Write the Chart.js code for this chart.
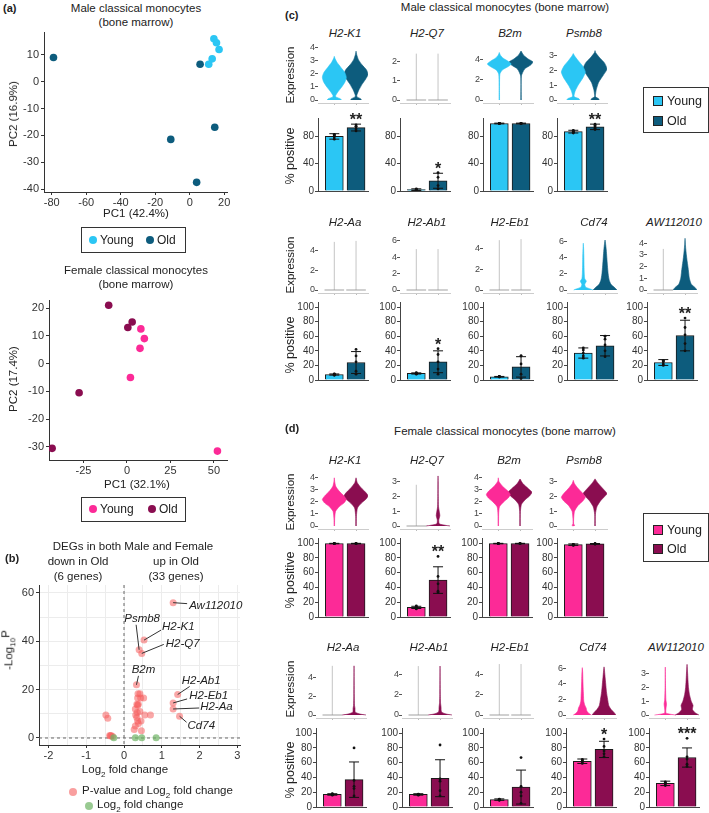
<!DOCTYPE html>
<html>
<head>
<meta charset="utf-8">
<script src="https://cdn.jsdelivr.net/npm/chart.js@4.4.1/dist/chart.umd.min.js"></script>
<style>
  body { margin: 0; background: #fff; width: 709px; height: 813px; position: relative; overflow: hidden;
         font-family: 'Liberation Sans', Arial, sans-serif; color: #222; }
  canvas { position: absolute; }
  .t { position: absolute; white-space: nowrap; transform: translate(-50%, -50%); }
  .l { position: absolute; white-space: nowrap; transform: translate(0, -50%); }
  .rot { position: absolute; white-space: nowrap; transform: translate(-50%, -50%) rotate(-90deg); }
  .box { position: absolute; border: 1px solid #333; box-sizing: border-box; }
  .dot { position: absolute; border-radius: 50%; transform: translate(-50%, -50%); }
  .sq { position: absolute; border: 1px solid #222; box-sizing: border-box; transform: translate(0, -50%); }
</style>
</head>
<body>
<script>
// ---------- data ----------
// (a) PCA
const maleYoungPC1 = [14, 15.5, 17, 13, 11];
const maleYoungPC2 = [16, 14.5, 12, 8.5, 6.5];
const maleOldPC1 = [-79, 6, -11, 14.5, 4];
const maleOldPC2 = [9, 6.5, -21.5, -17, -37.5];
const femYoungPC1 = [8, 10, 7.5, 2, 52];
const femYoungPC2 = [12.5, 9, 5.5, -5, -31.5];
const femOldPC1 = [-43, -27.5, -10.5, 0.5, 3];
const femOldPC2 = [-30.5, -10.5, 21, 13, 15];

// (b) volcano
const volcanoGenes = ['Aw112010', 'H2-K1', 'Psmb8', 'H2-Q7', 'B2m', 'H2-Ab1', 'H2-Eb1', 'H2-Aa', 'Cd74',
  '', '', '', '', '', '', '', '', '', '', '', '', '', '', '', '', '', '', '', '', '',
  '', '', '', '', '', ''];
const volcanoFC = [1.30, 0.53, 0.40, 0.47, 0.33, 1.42, 1.30, 1.30, 1.47,
  0.37, 0.42, 0.36, 0.44, 0.52, 0.34, 0.38, 0.36, 0.30, 0.42, 0.31, 0.34, 0.55, 0.70, 0.36, 0.45, 0.38, 0.30, 0.27, 0.46, 0.35,
  -0.48, -0.43, -0.38, -0.34, -0.30, -0.36];
const volcanoLogP = [56, 40.5, 36.5, 35, 22, 18, 14.5, 12, 9,
  18.3, 18.3, 16.5, 16.5, 16.5, 14, 14, 13.5, 12, 11, 9.5, 8.5, 9.5, 9.5, 7, 7, 6, 5, 3.5, 3, 10.5,
  9.5, 8.2, 1, 1, 0.6, 0.8];
const fcOnlyFC = [-0.27, 0.30, 0.47, 0.85];
const fcOnlyLogP = [0.1, 0.1, 0.1, 0.1];

// (c)/(d) genes
const genes = ['H2-K1', 'H2-Q7', 'B2m', 'Psmb8', 'H2-Aa', 'H2-Ab1', 'H2-Eb1', 'Cd74', 'AW112010'];

// male % positive
const maleYoungMean = [80, 2, 99, 87, 7.5, 9, 4.5, 37, 24];
const maleYoungSd = [4, 1.2, 0.5, 2, 0.8, 0.8, 0.4, 7, 4];
const maleOldMean = [93, 15, 99, 94, 24, 25, 18, 47, 61];
const maleOldSd = [5, 11, 0.5, 4, 15, 15, 14, 14, 21];
const maleStars = ['**', '*', '', '**', '', '*', '', '', '**'];
const maleYoungDots = [[76, 79, 81, 83, 82], [1, 2, 3, 2.5], [99, 99, 99, 99, 99], [85, 86, 88, 89, 87],
  [6.5, 7, 8, 8.5, 7.5], [8, 9, 10, 9.5, 8.5], [4, 4.5, 5, 4.5, 4.5], [30, 33, 37, 41, 44], [20, 22, 25, 27, 26]];
const maleOldDots = [[88, 91, 95, 97, 94], [3, 8, 20, 27], [99, 99, 99, 99, 99], [90, 92, 96, 98, 94],
  [8, 12, 25, 33, 42], [8, 15, 25, 35, 43], [2, 8, 22, 33, 33], [32, 40, 48, 56, 60], [40, 50, 62, 72, 85]];

// female % positive
const femYoungMean = [99.5, 13, 99.5, 98, 17, 17, 10, 62, 32];
const femYoungSd = [0.3, 1.5, 0.3, 1, 1, 1, 1, 3, 3];
const femOldMean = [99.5, 50, 99.5, 99, 37, 39, 27, 78, 67];
const femOldSd = [0.3, 18, 0.3, 0.5, 24, 25, 23, 11, 13];
const femStars = ['', '**', '', '', '', '', '', '*', '***'];
const femYoungDots = [[99.5, 99.5, 99.5, 99.5, 99.5], [11, 12, 13, 14, 15], [99.5, 99.5, 99.5, 99.5, 99.5],
  [97, 97.5, 98, 98.5, 98], [16, 16.5, 17, 17.5, 18], [16, 16.5, 17, 17.5, 17], [9, 9.5, 10, 10.5, 10],
  [59, 61, 62, 64, 64], [29, 31, 32, 34, 33]];
const femOldDots = [[99.5, 99.5, 99.5, 99.5, 99.5], [33, 35, 45, 55, 82], [99.5, 99.5, 99.5, 99.5, 99.5],
  [99, 99, 99, 99.5, 99], [15, 25, 28, 36, 80], [15, 22, 35, 38, 84], [5, 15, 20, 28, 67],
  [68, 72, 76, 82, 92], [55, 58, 65, 68, 93]];

// expression axis tops and tick steps
const maleExprMax = [4.3, 2.9, 5.6, 3.8, 5.5, 6.6, 5.2, 6.7, 4.6];
const maleExprStep = [1, 1, 1, 1, 1, 2, 1, 2, 1];
const femExprMax = [4.4, 3.6, 4.4, 3.6, 5.5, 5.1, 5.1, 6.7, 3.8];
const femExprStep = [1, 1, 1, 1, 2, 1, 1, 2, 1];

// violin outlines: [expression, relative half width]; a single number = cells almost all at 0 (thin line up to that value)
const maleYoungViolin = [
  [[0, .6], [.1, .5], [.22, .15], [.32, .1], [.6, .28], [1, .62], [1.4, .9], [1.75, 1], [2.1, .88], [2.5, .55], [2.9, .22], [3.2, .05], [3.35, 0]],
  2.4,
  [[0, .02], [1.5, .02], [2.6, .05], [3.0, .25], [3.35, .75], [3.6, 1], [3.9, .7], [4.2, .3], [4.5, .08], [4.75, 0]],
  [[0, .55], [.1, .45], [.2, .1], [.3, .06], [.6, .15], [1, .4], [1.5, .8], [1.9, 1], [2.3, .78], [2.7, .38], [3, .1], [3.15, 0]],
  4.9,
  5.0,
  4.8,
  [[0, .8], [.12, .6], [.35, .2], [.7, .12], [1.1, .25], [1.4, .12], [2, .08], [3, .06], [4, .05], [5, .03], [5.8, 0]],
  3.5
];
const maleOldViolin = [
  [[0, .45], [.1, .38], [.22, .1], [.35, .06], [.7, .2], [1.2, .5], [1.6, .8], [1.95, 1], [2.3, .88], [2.7, .5], [3.1, .2], [3.5, .05], [3.75, 0]],
  2.4,
  [[0, .02], [2.4, .03], [3.1, .3], [3.5, .8], [3.8, 1], [4.1, .6], [4.5, .2], [4.9, 0]],
  [[0, .35], [.1, .28], [.2, .05], [.3, .03], [.7, .1], [1.2, .3], [1.7, .7], [2.1, 1], [2.5, .8], [2.9, .35], [3.2, .06], [3.35, 0]],
  5.0,
  5.0,
  4.9,
  [[0, 1], [.3, .8], [.7, .5], [1.2, .35], [2, .26], [3, .2], [4, .15], [5, .1], [5.8, .04], [6.2, 0]],
  [[0, 1], [.2, .85], [.5, .52], [1, .36], [1.5, .3], [2, .24], [2.5, .17], [3, .11], [3.5, .06], [4, .02], [4.4, 0]]
];
const femYoungViolin = [
  [[0, .02], [.6, .03], [1.2, .1], [1.6, .4], [1.9, .8], [2.2, 1], [2.5, .8], [2.9, .4], [3.3, .12], [3.7, .03], [4, 0]],
  2.8,
  [[0, .02], [1, .03], [1.6, .1], [2, .45], [2.3, .8], [2.6, 1], [2.9, .8], [3.3, .35], [3.7, .05], [4, 0]],
  [[0, .03], [.05, .12], [.12, .03], [.5, .03], [1, .1], [1.4, .4], [1.7, .8], [1.95, 1], [2.2, .8], [2.6, .35], [2.9, .08], [3.1, 0]],
  5.2,
  4.8,
  5.0,
  [[0, .75], [.2, .55], [.5, .38], [.9, .32], [1.3, .2], [1.8, .12], [2.5, .1], [3.5, .07], [4.5, .05], [5.5, .03], [6.1, 0]],
  [[0, .9], [.06, .4], [.15, .05], [.5, .06], [.8, .1], [1.1, .05], [2, .02], [3.5, 0]]
];
const femOldViolin = [
  [[0, .02], [.8, .03], [1.5, .12], [1.9, .45], [2.2, .8], [2.5, 1], [2.8, .8], [3.2, .4], [3.6, .1], [4, 0]],
  [[0, 1], [.05, .6], [.15, .1], [.4, .06], [.7, .15], [.9, .12], [1.3, .04], [2, .02], [3, .01], [3.4, 0]],
  [[0, .02], [1.2, .03], [1.8, .12], [2.2, .45], [2.5, .8], [2.8, 1], [3.1, .7], [3.5, .25], [3.9, 0]],
  [[0, .02], [.8, .03], [1.3, .15], [1.7, .45], [2, .8], [2.2, 1], [2.5, .7], [2.9, .25], [3.2, 0]],
  [[0, 1], [.1, .5], [.3, .1], [.7, .08], [1, .04], [2, .02], [5.2, 0]],
  [[0, 1], [.1, .5], [.3, .12], [.8, .08], [1.2, .04], [2, .02], [4.8, 0]],
  5.0,
  [[0, 1], [.3, .85], [.7, .6], [1.2, .4], [2, .3], [3, .2], [4, .14], [5, .08], [6, .02], [6.2, 0]],
  [[0, 1], [.15, .7], [.4, .45], [.7, .5], [1, .35], [1.5, .2], [2, .12], [2.5, .08], [3, .05], [3.7, 0]]
];

// ---------- colours & layout ----------
const MALE = ['#2bc6f4', '#0d5c7d'];
const FEMALE = ['#fc2a97', '#8a0d50'];
const HW = 0.55;

Chart.defaults.font.family = "'Liberation Sans', Arial, sans-serif";
Chart.defaults.color = '#333';
Chart.defaults.animation = false;
Chart.defaults.responsive = false;
Chart.defaults.plugins.legend.display = false;
Chart.defaults.plugins.tooltip.enabled = false;

function canvasAt(left, top, w, h) {
  const c = document.createElement('canvas');
  c.width = w; c.height = h;
  c.style.left = left + 'px'; c.style.top = top + 'px';
  document.body.appendChild(c);
  return c;
}
function txt(x, y, html, css, cls) {
  const d = document.createElement('div');
  d.className = cls || 't';
  d.innerHTML = html;
  d.style.left = x + 'px'; d.style.top = y + 'px';
  Object.assign(d.style, css || {});
  document.body.appendChild(d);
}
function box(l, t, w, h) {
  const d = document.createElement('div');
  d.className = 'box';
  Object.assign(d.style, {left: l + 'px', top: t + 'px', width: w + 'px', height: h + 'px'});
  document.body.appendChild(d);
}
function dot(x, y, d, color) {
  const e = document.createElement('div');
  e.className = 'dot';
  Object.assign(e.style, {left: x + 'px', top: y + 'px', width: d + 'px', height: d + 'px', background: color});
  document.body.appendChild(e);
}
function sq(x, y, s, color) {
  const e = document.createElement('div');
  e.className = 'sq';
  Object.assign(e.style, {left: x + 'px', top: y + 'px', width: s + 'px', height: s + 'px', background: color});
  document.body.appendChild(e);
}
const pts = (xs, ys) => xs.map((x, i) => ({x, y: ys[i]}));

// ---------- (a) PCA ----------
function pcaChart(area, xr, yr, xStep, yStep, young, old, colors) {
  const c = canvasAt(0, area.t - 12, 240, 12 + (area.b - area.t) + 20);
  new Chart(c, {
    type: 'scatter',
    data: { datasets: [
      { data: young, backgroundColor: colors[0], pointRadius: 3.8, borderWidth: 0 },
      { data: old, backgroundColor: colors[1], pointRadius: 3.8, borderWidth: 0 }
    ] },
    options: {
      devicePixelRatio: 1,
      layout: { padding: { top: 12, right: 240 - area.r, bottom: 4, left: 0 } },
      scales: {
        x: { type: 'linear', min: xr[0], max: xr[1],
             ticks: { stepSize: xStep, includeBounds: false, font: { size: 11 }, padding: 1, maxRotation: 0, color: '#333' },
             grid: { drawOnChartArea: false, tickLength: 3, color: '#333' }, border: { color: '#333' },
             afterFit: s => { s.height = 16; } },
        y: { min: yr[0], max: yr[1],
             ticks: { stepSize: yStep, includeBounds: false, font: { size: 11 }, padding: 2, color: '#333' },
             grid: { drawOnChartArea: false, tickLength: 3, color: '#333' }, border: { color: '#333' },
             afterFit: s => { s.width = area.l; } }
      }
    }
  });
}

txt(3, 8, '(a)', { fontWeight: 'bold', fontSize: '11px' }, 'l');
txt(136, 8, 'Male classical monocytes', { fontSize: '11.5px' });
txt(136, 22, '(bone marrow)', { fontSize: '11.5px' });
pcaChart({ l: 44, t: 32, r: 227, b: 192 }, [-84.5, 21.6], [-41.1, 18.5], 20, 10,
  pts(maleYoungPC1, maleYoungPC2), pts(maleOldPC1, maleOldPC2), MALE);
txt(136, 213, 'PC1 (42.4%)', { fontSize: '11.5px' });
txt(13, 114, 'PC2 (16.9%)', { fontSize: '11.5px' }, 'rot');
box(81, 227, 105, 26);
dot(93, 240, 8, MALE[0]); txt(100, 240, 'Young', { fontSize: '12px' }, 'l');
dot(150, 240, 8, MALE[1]); txt(157, 240, 'Old', { fontSize: '12px' }, 'l');

txt(136, 270, 'Female classical monocytes', { fontSize: '11.5px' });
txt(136, 284, '(bone marrow)', { fontSize: '11.5px' });
pcaChart({ l: 49, t: 300, r: 227, b: 460 }, [-44.8, 57.5], [-34.7, 22.9], 25, 10,
  pts(femYoungPC1, femYoungPC2), pts(femOldPC1, femOldPC2), FEMALE);
txt(137, 484, 'PC1 (32.1%)', { fontSize: '11.5px' });
txt(13, 379, 'PC2 (17.4%)', { fontSize: '11.5px' }, 'rot');
box(81, 497, 105, 25);
dot(93, 509, 8, FEMALE[0]); txt(100, 509, 'Young', { fontSize: '12px' }, 'l');
dot(152, 509, 8, FEMALE[1]); txt(159, 509, 'Old', { fontSize: '12px' }, 'l');

// ---------- (b) volcano ----------
const volcanoLabelLayout = {
  'Aw112010': { tx: 16, ty: 3, lx: 14, ly: 1, align: 'left' },
  'H2-K1': { tx: 18, ty: -13, lx: 17, ly: -10, align: 'left' },
  'H2-Q7': { tx: 24, ty: -10, lx: 22, ly: -9, align: 'left' },
  'Psmb8': { tx: 3, ty: -31, lx: -3, ly: -25, align: 'center' },
  'B2m': { tx: 7, ty: -15, lx: 2, ly: -9, align: 'center' },
  'H2-Ab1': { tx: 4, ty: -14, lx: 12, ly: -8, align: 'left' },
  'H2-Eb1': { tx: 16, ty: -7, lx: 14, ly: -4, align: 'left' },
  'H2-Aa': { tx: 27, ty: -2, lx: 26, ly: -1, align: 'left' },
  'Cd74': { tx: 8, ty: 10, lx: 7, ly: 6, align: 'left' }
};
const volcanoExtras = {
  id: 'volcanoExtras',
  beforeDatasetsDraw(chart) {
    const { ctx, chartArea: a, scales: { x, y } } = chart;
    const x0 = x.getPixelForValue(0), y0 = y.getPixelForValue(0);
    ctx.save();
    ctx.strokeStyle = '#666'; ctx.lineWidth = 1; ctx.setLineDash([3, 3]);
    ctx.beginPath();
    ctx.moveTo(x0, a.top); ctx.lineTo(x0, a.bottom);
    ctx.moveTo(a.left, y0); ctx.lineTo(a.right, y0);
    ctx.stroke();
    ctx.restore();
  },
  afterDatasetsDraw(chart) {
    const { ctx, scales: { x, y } } = chart;
    ctx.save();
    ctx.font = "italic 11.5px 'Liberation Sans', Arial, sans-serif";
    ctx.fillStyle = '#222'; ctx.strokeStyle = '#333'; ctx.lineWidth = 1;
    ctx.textBaseline = 'middle';
    volcanoGenes.forEach((g, i) => {
      const L = volcanoLabelLayout[g];
      if (!L) return;
      const px = x.getPixelForValue(volcanoFC[i]), py = y.getPixelForValue(volcanoLogP[i]);
      ctx.beginPath(); ctx.moveTo(px, py); ctx.lineTo(px + L.lx, py + L.ly); ctx.stroke();
      ctx.textAlign = L.align;
      ctx.fillText(g, px + L.tx, py + L.ty);
    });
    ctx.restore();
  }
};
txt(5, 558, '(b)', { fontWeight: 'bold', fontSize: '11px' }, 'l');
txt(133, 546, 'DEGs in both Male and Female', { fontSize: '11.5px' });
txt(78, 561, 'down in Old', { fontSize: '11.5px' });
txt(78, 576, '(6 genes)', { fontSize: '11.5px' });
txt(176, 561, 'up in Old', { fontSize: '11.5px' });
txt(176, 576, '(33 genes)', { fontSize: '11.5px' });
new Chart(canvasAt(0, 573, 245, 192), {
  type: 'scatter',
  data: { datasets: [
    { data: pts(fcOnlyFC, fcOnlyLogP), backgroundColor: 'rgba(110,180,100,0.7)', pointRadius: 3.5, borderWidth: 0 },
    { data: pts(volcanoFC, volcanoLogP), backgroundColor: 'rgba(245,95,95,0.55)', pointRadius: 3.5, borderWidth: 0 }
  ] },
  options: {
    devicePixelRatio: 1,
    layout: { padding: { top: 12, right: 5, bottom: 4, left: 0 } },
    scales: {
      x: { type: 'linear', min: -2.25, max: 3.07,
           ticks: { stepSize: 0.5, includeBounds: false, autoSkip: false, maxRotation: 0, font: { size: 11 }, padding: 1, color: '#333',
                    callback: v => Number.isInteger(v) ? v : '' },
           grid: { color: '#ececec', tickLength: 3,
                   tickColor: c => Number.isInteger(c.tick.value) ? '#333' : 'rgba(0,0,0,0)' },
           border: { color: '#333' }, afterFit: s => { s.height = 16; } },
      y: { min: -2.9, max: 63.3,
           ticks: { stepSize: 10, includeBounds: false, autoSkip: false, font: { size: 11 }, padding: 2, color: '#333',
                    callback: v => v % 20 === 0 ? v : '' },
           grid: { color: '#ececec', tickLength: 3,
                   tickColor: c => c.tick.value % 20 === 0 ? '#333' : 'rgba(0,0,0,0)' },
           border: { color: '#333' }, afterFit: s => { s.width = 39; } }
    }
  },
  plugins: [volcanoExtras]
});
txt(10, 650, '-Log<sub style="font-size:8px">10</sub><span style="position:relative;top:-3px">P</span>', { fontSize: '11.5px' }, 'rot');
txt(125, 771, 'Log<sub style="font-size:8px">2</sub> fold change', { fontSize: '11.5px' });
dot(73, 792, 8, 'rgba(245,95,95,0.6)');
txt(82, 792, 'P-value and Log<sub style="font-size:8px">2</sub> fold change', { fontSize: '11.5px' }, 'l');
dot(89, 806, 8, 'rgba(110,180,100,0.7)');
txt(97, 806, 'Log<sub style="font-size:8px">2</sub> fold change', { fontSize: '11.5px' }, 'l');

// ---------- (c)/(d) violins + bars ----------
const errBars = {
  id: 'errbars',
  afterDatasetsDraw(chart, args, o) {
    const { ctx, scales: { x, y } } = chart;
    ctx.save();
    ctx.strokeStyle = '#111'; ctx.lineWidth = 1;
    let starTop = Infinity;
    o.mean.forEach((m, i) => {
      const cx = x.getPixelForValue(i);
      const lo = y.getPixelForValue(m - o.sd[i]), hi = y.getPixelForValue(m + o.sd[i]);
      ctx.beginPath();
      ctx.moveTo(cx, lo); ctx.lineTo(cx, hi);
      ctx.moveTo(cx - 5, hi); ctx.lineTo(cx + 5, hi);
      ctx.moveTo(cx - 5, lo); ctx.lineTo(cx + 5, lo);
      ctx.stroke();
      if (i === 1) starTop = Math.min(hi, y.getPixelForValue(Math.max(...o.dots)));
    });
    if (o.star) {
      ctx.font = "bold 16px 'Liberation Sans', Arial, sans-serif";
      ctx.fillStyle = '#222'; ctx.textAlign = 'center'; ctx.textBaseline = 'alphabetic';
      ctx.fillText(o.star, x.getPixelForValue(1), starTop + 1);
    }
    ctx.restore();
  }
};

function violinChart(axisX, top, h, vmax, step, profiles, colors) {
  const ppu = (h - 3) / vmax;
  const datasets = [];
  profiles.forEach((p, i) => {
    if (typeof p === 'number') {
      datasets.push({ data: [{ x: i, y: 0 }, { x: i, y: p }], borderColor: 'rgba(150,150,150,0.55)', borderWidth: 1, pointRadius: 0 });
      datasets.push({ data: [{ x: i - 0.45, y: 0 }, { x: i + 0.45, y: 0 }], borderColor: 'rgba(150,150,150,0.6)', borderWidth: 1.5, pointRadius: 0 });
    } else {
      const right = p.map(([v, w]) => ({ x: i + w * HW, y: v }));
      const left = p.slice().reverse().map(([v, w]) => ({ x: i - w * HW, y: v }));
      datasets.push({ data: right.concat(left), backgroundColor: colors[i], borderColor: colors[i], borderWidth: 0.6,
                      pointRadius: 0, fill: 'shape', tension: 0.2 });
    }
  });
  new Chart(canvasAt(axisX - 24, top - 10, 80, h + 20), {
    type: 'line',
    data: { datasets },
    options: {
      devicePixelRatio: 1,
      layout: { padding: { top: 10, right: 6, bottom: 8, left: 0 } },
      scales: {
        x: { type: 'linear', min: -0.75, max: 1.55, ticks: { display: false, stepSize: 1, includeBounds: false },
             grid: { drawOnChartArea: false, tickLength: 2, color: '#bbb' }, border: { color: '#ccc' },
             afterFit: s => { s.height = 2; } },
        y: { min: -3 / ppu, max: vmax,
             ticks: { stepSize: step, includeBounds: false, font: { size: 9 }, padding: 0, color: '#444' },
             grid: { drawOnChartArea: false, tickLength: 3, color: '#555' }, border: { display: false },
             afterFit: s => { s.width = 24; } }
      }
    }
  });
}

function barChart(axisX, top, h, mean, sd, youngDots, oldDots, star, colors) {
  const dots = youngDots.map(v => ({ x: 0, y: v })).concat(oldDots.map(v => ({ x: 1, y: v })));
  new Chart(canvasAt(axisX - 24, top - 10, 80, h + 20), {
    type: 'bar',
    data: { datasets: [
      { type: 'scatter', data: dots, backgroundColor: '#111', pointRadius: 1.4, borderWidth: 0 },
      { data: [{ x: 0, y: mean[0] }, { x: 1, y: mean[1] }], backgroundColor: colors, borderColor: '#1a1a1a',
        borderWidth: 1, barThickness: 18 }
    ] },
    options: {
      devicePixelRatio: 1,
      layout: { padding: { top: 10, right: 6, bottom: 8, left: 0 } },
      scales: {
        x: { type: 'linear', min: -0.75, max: 1.55, offset: false, ticks: { display: false },
             grid: { display: false, offset: false }, border: { color: '#444' }, afterFit: s => { s.height = 2; } },
        y: { min: 0, max: 107, ticks: { stepSize: 20, includeBounds: false, font: { size: 10 }, padding: 1, color: '#333' },
             grid: { drawOnChartArea: false, tickLength: 3, color: '#444' }, border: { color: '#444' },
             afterFit: s => { s.width = 24; } }
      },
      plugins: { errbars: { mean, sd, star, dots: oldDots } }
    },
    plugins: [errBars]
  });
}

function geneRow(row, sex) {
  const d = sex === 'male'
    ? { ym: maleYoungMean, ys: maleYoungSd, om: maleOldMean, os: maleOldSd, yd: maleYoungDots, od: maleOldDots,
        st: maleStars, vmax: maleExprMax, step: maleExprStep, yv: maleYoungViolin, ov: maleOldViolin, col: MALE }
    : { ym: femYoungMean, ys: femYoungSd, om: femOldMean, os: femOldSd, yd: femYoungDots, od: femOldDots,
        st: femStars, vmax: femExprMax, step: femExprStep, yv: femYoungViolin, ov: femOldViolin, col: FEMALE };
  row.genes.forEach((g, k) => {
    const ax = row.axes[k];
    txt(ax + 27, row.nameY, genes[g], { fontSize: '11.5px', fontStyle: 'italic' });
    violinChart(ax, row.vTop, row.vH, d.vmax[g], d.step[g], [d.yv[g], d.ov[g]], d.col);
    barChart(ax, row.bTop, row.bH, [d.ym[g], d.om[g]], [d.ys[g], d.os[g]], d.yd[g], d.od[g], d.st[g], d.col);
  });
  txt(290, row.exprY, 'Expression', { fontSize: '11.5px' }, 'rot');
  txt(290, row.posY, '% positive', { fontSize: '12.5px' }, 'rot');
}

txt(285, 15, '(c)', { fontWeight: 'bold', fontSize: '11px' }, 'l');
txt(505, 7, 'Male classical monocytes (bone marrow)', { fontSize: '11.5px' });
geneRow({ genes: [0, 1, 2, 3], axes: [318, 400, 483, 557], nameY: 33, vTop: 44, vH: 59, bTop: 118, bH: 73, exprY: 75, posY: 156 }, 'male');
geneRow({ genes: [4, 5, 6, 7, 8], axes: [318, 400, 483, 567, 647], nameY: 222, vTop: 236, vH: 57, bTop: 302, bH: 78, exprY: 265, posY: 345 }, 'male');
box(643, 87, 66, 46);
sq(653, 101, 10, MALE[0]); txt(667, 101, 'Young', { fontSize: '12.5px' }, 'l');
sq(653, 121, 10, MALE[1]); txt(667, 121, 'Old', { fontSize: '12.5px' }, 'l');

txt(285, 428, '(d)', { fontWeight: 'bold', fontSize: '11px' }, 'l');
txt(505, 431, 'Female classical monocytes (bone marrow)', { fontSize: '11.5px' });
geneRow({ genes: [0, 1, 2, 3], axes: [318, 400, 482, 557], nameY: 460, vTop: 473, vH: 56, bTop: 538, bH: 79, exprY: 502, posY: 580 }, 'female');
geneRow({ genes: [4, 5, 6, 7, 8], axes: [316, 402, 483, 566, 649], nameY: 647, vTop: 663, vH: 55, bTop: 728, bH: 79, exprY: 689, posY: 770 }, 'female');
box(643, 513, 66, 49);
sq(653, 530, 10, FEMALE[0]); txt(667, 530, 'Young', { fontSize: '12.5px' }, 'l');
sq(653, 549, 10, FEMALE[1]); txt(667, 549, 'Old', { fontSize: '12.5px' }, 'l');
</script>
</body>
</html>
